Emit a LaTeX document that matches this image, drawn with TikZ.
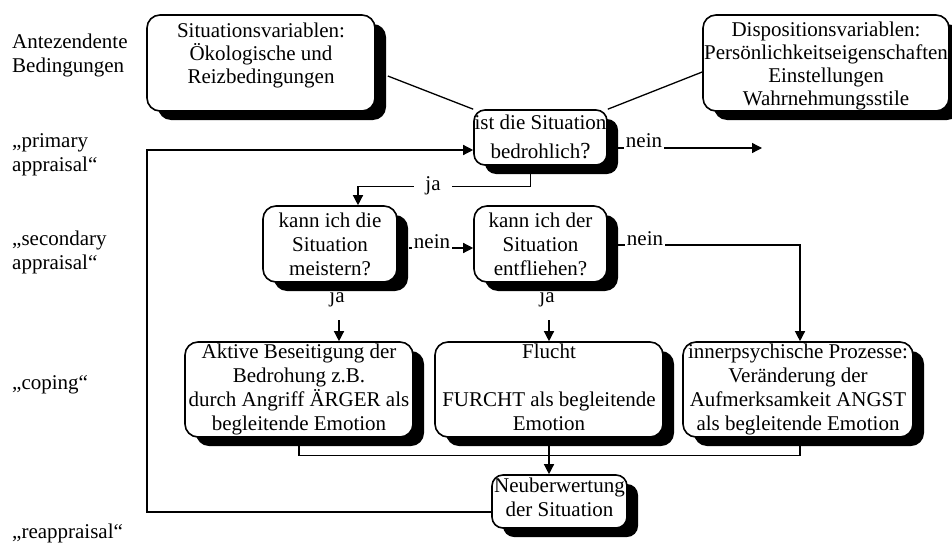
\documentclass[tikz,border=0pt]{standalone}
\usepackage{fontspec}
\setmainfont{Liberation Serif}
\usetikzlibrary{shadows,arrows.meta,calc}
\newcommand\vT[1]{\rule{0pt}{#1pt}}
\newcommand\vB[1]{\rule[-#1pt]{0pt}{#1pt}}
\begin{document}
\begin{tikzpicture}[x=1pt,y=-1pt,
  every node/.style={font=\fontsize{21}{24}\selectfont},
  box/.style={draw, line width=1.6pt, rounded corners=13pt, fill=white, align=center, inner sep=0pt,
    drop shadow={shadow xshift=11pt, shadow yshift=-9pt, fill=black, opacity=1}},
  conn/.style={line width=1.3pt},
  arr/.style={conn, -{Triangle[length=10pt,width=10pt]}},
  lbl/.style={fill=white, inner xsep=1.5pt, inner ysep=2pt},
  side/.style={align=left, anchor=west, inner sep=0pt}]
\useasboundingbox (0,0) rectangle (952,543);

% boxes
\node[box, font=\fontsize{21}{23}\selectfont, minimum width=228pt, minimum height=96pt] (b1) at (261,63)
  {\vT{22}Situationsvariablen:\\Ökologische und\\Reizbedingungen\vB{28}};
\node[box, font=\fontsize{21}{23}\selectfont, minimum width=246pt, minimum height=96pt] (b3) at (826,63)
  {\vT{21}Dispositionsvariablen:\\Persönlichkeitseigenschaften\\Einstellungen\\Wahrnehmungsstile\vB{6}};
\node[box, rounded corners=11pt, minimum width=133pt, minimum height=55pt] (b2) at (540.5,137.5)
  {\vT{19}ist die Situation\\[5pt]bedrohlich{\fontsize{23}{24}\selectfont?}\vB{7}};
\node[box, minimum width=134pt, minimum height=76pt] (b4) at (330,244)
  {\vT{21}kann ich die\\Situation\\meistern?\vB{7}};
\node[box, minimum width=133pt, minimum height=76pt] (b5) at (540.5,244)
  {\vT{21}kann ich der\\Situation\\entfliehen?\vB{7}};
\node[box, minimum width=228pt, minimum height=95pt] (b7) at (299,389.5)
  {\vT{16}Aktive Beseitigung der\\Bedrohung z.B.\\durch Angriff ÄRGER als\\begleitende Emotion\vB{7}};
\node[box, minimum width=228pt, minimum height=95pt] (b8) at (549,389.5)
  {\vT{16}Flucht\\\strut\\FURCHT als begleitende\\Emotion\vB{7}};
\node[box, minimum width=230pt, minimum height=95pt] (b9) at (798,389.5)
  {\vT{16}innerpsychische Prozesse:\\Veränderung der\\Aufmerksamkeit ANGST\\als begleitende Emotion\vB{7}};
\node[box, rounded corners=11pt, minimum width=135pt, minimum height=53pt] (b10) at (559.5,501.5)
  {\vT{17}Neuberwertung\\der Situation\vB{12}};

% side labels
\node[side] (l1) at (12,55) {Antezendente\\Bedingungen};
\node[side] (l2) at (12,155) {„primary\\appraisal“};
\node[side] (l3) at (12,252) {„secondary\\appraisal“};
\node[side] (l4) at (12,385) {„coping“};
\node[side] (l5) at (12,533) {„reappraisal“};

% connectors
\draw[conn] ($(b1.east)+(12,13)$) -- (b2.north west);
\draw[conn] (b2.north east) -- ($(b3.west)+(0,9)$);
\draw[arr] ($(b10.west)+(0,10.5)$) -- (147,512) -- (147,150) -- ($(b2.west)+(0,12.5)$);

\coordinate (e1) at (762,148);
\draw[arr] ($(b2.east)+(10,10.5)$) -- (e1);
\node[lbl, anchor=base] (n1) at (644,147.5) {nein};

\draw[arr] ($(b2.south)+(-10,8.5)$) -- ++(0,12) -| ($(b4.north)+(28,0)$);
\node[lbl, inner xsep=11pt] (j1) at (433,186) {ja};

\draw[arr] ($(b4.east)+(11,4)$) -- ($(b5.west)+(0,4)$);
\node[lbl, anchor=base] (n2) at (432,248) {nein};

\draw[arr] ($(b5.east)+(10,1)$) -| ($(b9.north)+(2,0)$);
\node[lbl, anchor=base] (n3) at (645,245) {nein};

\node (j2) at (337,298) {ja};
\coordinate (s2) at (339,320);
\draw[arr] (s2) -- ($(b7.north)+(40,0)$);

\node (j3) at (547,298) {ja};
\coordinate (s3) at (549,320);
\draw[arr] (s3) -- (b8.north);

\draw[conn] (b7.south) -- ++(0,18) -| ($(b9.south)+(2,0)$);
\draw[arr] (b8.south) -- (b8.south |- b10.north);
\end{tikzpicture}
\end{document}
